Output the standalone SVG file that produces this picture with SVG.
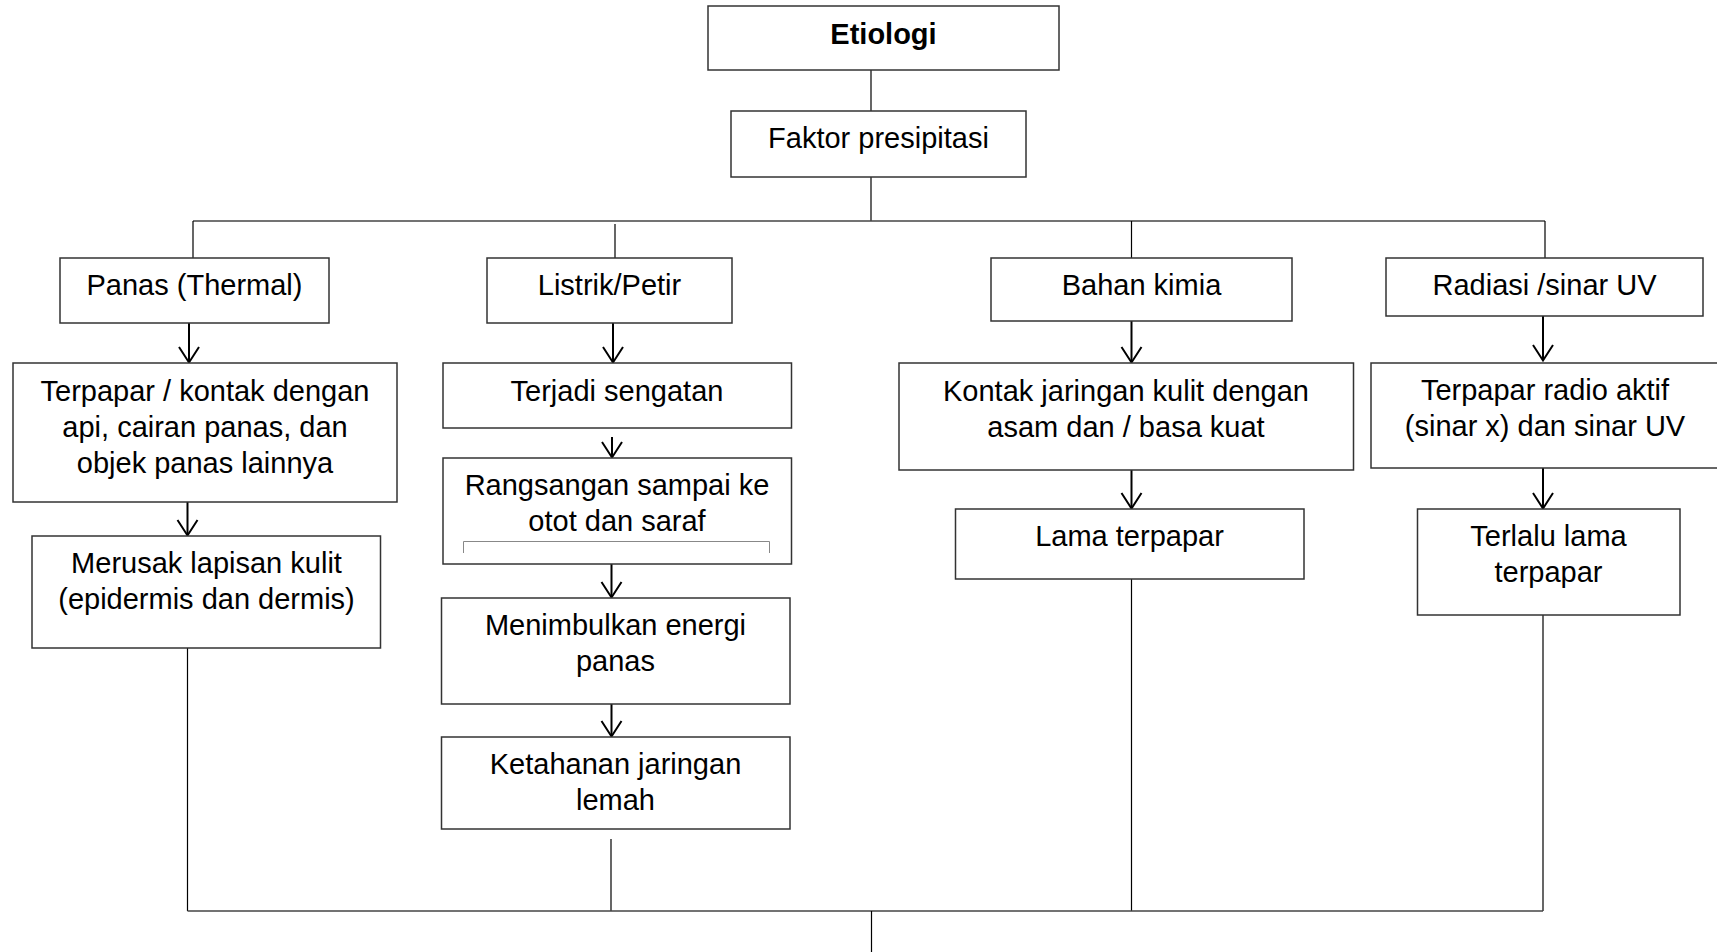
<svg xmlns="http://www.w3.org/2000/svg" width="1717" height="952" viewBox="0 0 1717 952">
<style>
.box{fill:#fff;stroke:#333;stroke-width:1.5}
.t{font-family:"Liberation Sans",Arial,sans-serif;font-size:29px;fill:#000;text-anchor:middle}
.b{font-weight:bold}
.ln{stroke:#000;stroke-width:1.2;fill:none}
.bus{stroke:#444;stroke-width:1.6;fill:none}
.ah{stroke:#000;stroke-width:2;fill:none}
.br{stroke:#888;stroke-width:1;fill:none}
</style>
<rect width="1717" height="952" fill="#fff"/>
<g id="connectors">
<line class="ln" x1="871" y1="65" x2="871" y2="116"/>
<line class="ln" x1="871" y1="173" x2="871" y2="221"/>
<line class="bus" x1="193" y1="221" x2="1545" y2="221"/>
<line class="ln" x1="193" y1="221" x2="193" y2="258"/>
<line class="ln" x1="615" y1="224" x2="615" y2="261"/>
<line class="ln" x1="1131.5" y1="221" x2="1131.5" y2="258"/>
<line class="ln" x1="1545" y1="221" x2="1545" y2="259"/>
<line class="ah" x1="189" y1="323" x2="189" y2="362"/><polyline class="ah" points="179,347 189,362.5 199,347"/>
<line class="ah" x1="613" y1="319" x2="613" y2="362"/><polyline class="ah" points="603,347 613,362.5 623,347"/>
<line class="ah" x1="612" y1="437" x2="612" y2="457"/><polyline class="ah" points="602,442 612,457.5 622,442"/>
<line class="ah" x1="611.5" y1="553" x2="611.5" y2="597"/><polyline class="ah" points="601.5,582 611.5,597.5 621.5,582"/>
<line class="ah" x1="611.5" y1="698" x2="611.5" y2="736"/><polyline class="ah" points="601.5,721 611.5,736.5 621.5,721"/>
<line class="ah" x1="187.5" y1="502" x2="187.5" y2="535"/><polyline class="ah" points="177.5,520 187.5,535.5 197.5,520"/>
<line class="ah" x1="1131.5" y1="321" x2="1131.5" y2="362"/><polyline class="ah" points="1121.5,347 1131.5,362.5 1141.5,347"/>
<line class="ah" x1="1543" y1="316" x2="1543" y2="360"/><polyline class="ah" points="1533,345 1543,360.5 1553,345"/>
<line class="ah" x1="1131.5" y1="470" x2="1131.5" y2="508"/><polyline class="ah" points="1121.5,493 1131.5,508.5 1141.5,493"/>
<line class="ah" x1="1543" y1="468" x2="1543" y2="508"/><polyline class="ah" points="1533,493 1543,508.5 1553,493"/>
<line class="ln" x1="187.5" y1="638" x2="187.5" y2="911"/>
<line class="ln" x1="611" y1="839" x2="611" y2="911"/>
<line class="ln" x1="1131.5" y1="579" x2="1131.5" y2="911"/>
<line class="ln" x1="1543" y1="605" x2="1543" y2="911"/>
<line class="bus" x1="187.5" y1="911" x2="1543" y2="911"/>
<line class="ln" x1="871.5" y1="911" x2="871.5" y2="952"/>
</g>
<g id="etiologi"><rect class="box" x="708" y="6" width="351" height="64"/><text class="t b" x="883.5" y="44">Etiologi</text></g>
<g id="faktor"><rect class="box" x="731" y="111" width="295" height="66"/><text class="t" x="878.5" y="148">Faktor presipitasi</text></g>
<g id="panas"><rect class="box" x="60" y="258" width="269" height="65"/><text class="t" x="194.5" y="295">Panas (Thermal)</text></g>
<g id="listrik"><rect class="box" x="487" y="258" width="245" height="65"/><text class="t" x="609.5" y="295">Listrik/Petir</text></g>
<g id="kimia"><rect class="box" x="991" y="258" width="301" height="63"/><text class="t" x="1141.5" y="295">Bahan kimia</text></g>
<g id="radiasi"><rect class="box" x="1386" y="258" width="317" height="58"/><text class="t" x="1544.5" y="295">Radiasi /sinar UV</text></g>
<g id="terpapar"><rect class="box" x="13" y="363" width="384" height="139"/><text class="t" x="205" y="401">Terpapar / kontak dengan</text><text class="t" x="205" y="437">api, cairan panas, dan</text><text class="t" x="205" y="473">objek panas lainnya</text></g>
<g id="sengatan"><rect class="box" x="443" y="363" width="348.5" height="65"/><text class="t" x="617" y="401">Terjadi sengatan</text></g>
<g id="rangsangan"><rect class="box" x="443" y="458" width="348.5" height="106"/><text class="t" x="617" y="495">Rangsangan sampai ke</text><text class="t" x="617" y="531">otot dan saraf</text><polyline class="br" points="463.5,553 463.5,541.5 769.5,541.5 769.5,553"/></g>
<g id="merusak"><rect class="box" x="32" y="536" width="348.5" height="112"/><text class="t" x="206.5" y="573">Merusak lapisan kulit</text><text class="t" x="206.5" y="609">(epidermis dan dermis)</text></g>
<g id="menimbulkan"><rect class="box" x="441.5" y="598" width="348.5" height="106"/><text class="t" x="615.5" y="635">Menimbulkan energi</text><text class="t" x="615.5" y="671">panas</text></g>
<g id="ketahanan"><rect class="box" x="441.5" y="737" width="348.5" height="92"/><text class="t" x="615.5" y="774">Ketahanan jaringan</text><text class="t" x="615.5" y="810">lemah</text></g>
<g id="kontak"><rect class="box" x="899" y="363" width="454.5" height="107"/><text class="t" x="1126" y="401">Kontak jaringan kulit dengan</text><text class="t" x="1126" y="437">asam dan / basa kuat</text></g>
<g id="radioaktif"><rect class="box" x="1371" y="363" width="350" height="105"/><text class="t" x="1545" y="400">Terpapar radio aktif</text><text class="t" x="1545" y="436">(sinar x) dan sinar UV</text></g>
<g id="lama"><rect class="box" x="955.5" y="509" width="348.5" height="70"/><text class="t" x="1129.5" y="546">Lama terpapar</text></g>
<g id="terlalu"><rect class="box" x="1417.5" y="509" width="262.5" height="106"/><text class="t" x="1548.5" y="546">Terlalu lama</text><text class="t" x="1548.5" y="582">terpapar</text></g>
</svg>
